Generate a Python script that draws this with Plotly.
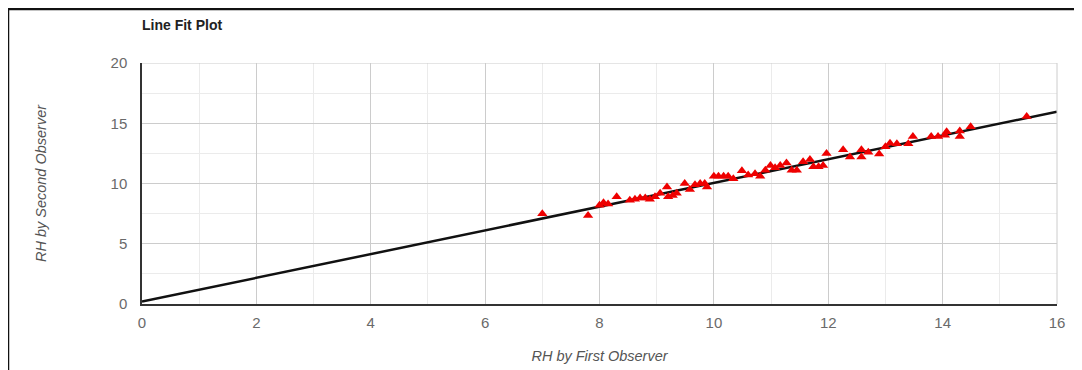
import plotly.graph_objects as go

# Observed points (RH by first observer, RH by second observer)
first_obs = [7.0, 7.8, 8.0, 8.07, 8.15, 8.3, 8.53, 8.62, 8.71, 8.8, 8.88, 8.97, 9.06, 9.18, 9.2,
             9.28, 9.35, 9.49, 9.58, 9.67, 9.76, 9.84, 9.88, 10.0, 10.08, 10.17, 10.25, 10.34,
             10.49, 10.6, 10.72, 10.81, 10.9, 10.99, 11.07, 11.16, 11.27, 11.36, 11.45, 11.56,
             11.68, 11.74, 11.83, 11.91, 11.97, 12.26, 12.38, 12.58, 12.58, 12.7, 12.89, 13.0,
             13.08, 13.2, 13.4, 13.48, 13.8, 13.92, 14.04, 14.07, 14.3, 14.3, 14.49, 15.47]
second_obs = [7.5, 7.35, 8.2, 8.4, 8.3, 8.9, 8.6, 8.7, 8.8, 8.8, 8.7, 8.9, 9.2, 9.7, 8.9,
              9.0, 9.2, 10.0, 9.5, 9.9, 10.0, 10.0, 9.7, 10.6, 10.6, 10.6, 10.6, 10.4,
              11.05, 10.7, 10.8, 10.6, 11.1, 11.5, 11.3, 11.5, 11.7, 11.1, 11.1, 11.8,
              12.0, 11.4, 11.4, 11.5, 12.5, 12.8, 12.2, 12.8, 12.2, 12.6, 12.45, 13.05,
              13.35, 13.3, 13.3, 13.9, 13.9, 13.9, 14.0, 14.3, 14.35, 13.9, 14.7, 15.55]

# Fitted line end points
fit_x = [0, 16]
fit_y = [0.2, 15.96]

x_ticks = [0, 2, 4, 6, 8, 10, 12, 14, 16]
y_ticks = [0, 5, 10, 15, 20]

# page is offset 8px by the body margin
L, T, PW, PH = 134, 55, 915, 241

fig = go.Figure()
fig.add_trace(go.Scatter(x=fit_x, y=fit_y, mode="lines",
                         line=dict(color="#111111", width=2.5), showlegend=False))
fig.add_trace(go.Scatter(x=first_obs, y=second_obs, mode="markers",
                         marker=dict(symbol="triangle-up", size=9, color="#ee0000",
                                     line=dict(width=0)),
                         showlegend=False))

font_fam = "Liberation Sans, Arial, sans-serif"
fig.update_layout(
    width=1082, height=370,
    margin=dict(l=L, r=1082 - L - PW, t=T, b=370 - T - PH),
    paper_bgcolor="white", plot_bgcolor="white",
    font=dict(family=font_fam, color="#666666", size=15),
    title=dict(text="<b>Line Fit Plot</b>", x=L / 1082, xanchor="left",
               y=1 - 17 / 370, yanchor="middle",
               font=dict(size=14, color="#222222", family=font_fam)),
    xaxis=dict(range=[0, 16], tickvals=x_ticks, showgrid=True, gridcolor="#cccccc",
               gridwidth=1, zeroline=False, showline=True, linecolor="#333333", linewidth=1.5,
               minor=dict(dtick=1, showgrid=True, gridcolor="#ebebeb"),
               ticklabelstandoff=4,
               tickfont=dict(size=15, color="#6a6a6a"),
               title=dict(text="<i>RH by First Observer</i>",
                          font=dict(size=14.5, color="#555555"), standoff=21)),
    yaxis=dict(range=[0, 20], tickvals=y_ticks, showgrid=True, gridcolor="#cccccc",
               gridwidth=1, zeroline=False, showline=True, linecolor="#333333", linewidth=1.5,
               minor=dict(dtick=2.5, showgrid=True, gridcolor="#ebebeb"),
               ticklabelstandoff=10,
               tickfont=dict(size=15, color="#6a6a6a"),
               title=dict(text="<i>RH by Second Observer</i>",
                          font=dict(size=14.5, color="#555555"), standoff=60)),
    shapes=[
        dict(type="line", xref="paper", yref="paper",
             x0=(0 - L) / PW, x1=(1082 - L) / PW + 0.05,
             y0=(T + PH - 1) / PH, y1=(T + PH - 1) / PH,
             line=dict(color="#111111", width=2.5)),
        dict(type="line", xref="paper", yref="paper",
             x0=(0 - L) / PW, x1=(0 - L) / PW,
             y0=(T + PH - 1) / PH, y1=-0.5,
             line=dict(color="#111111", width=2.5)),
        dict(type="line", xref="paper", yref="paper",
             x0=1, x1=1, y0=0, y1=1, line=dict(color="#cccccc", width=1)),
    ],
)
fig.add_hline(y=20, line=dict(color="#cccccc", width=1))

fig.write_html("out.html")
